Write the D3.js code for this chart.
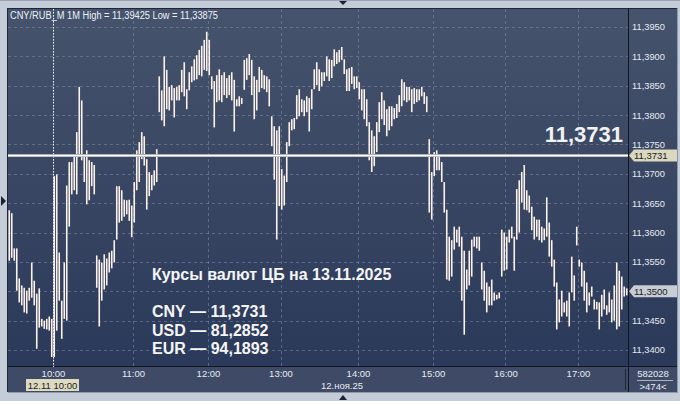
<!DOCTYPE html>
<html><head><meta charset="utf-8">
<script src="https://cdn.jsdelivr.net/npm/d3@7"></script>
<style>body{margin:0;background:#c4ccd8;overflow:hidden}svg{display:block}</style>
</head><body><svg id="c" width="680" height="401"></svg>
<script>
// ---- data ----
const BASE = 11.3;            // bar values below are in 1e-4 RUB above BASE
const barHigh = [
638,633,573,573, 522,510,506,501, 506,549,518,496, 505,453,450,453, 457,453,696,699,
566,484,549,680, 720,720,732,771, 848,825,730,740, 723,720,715,561, 554,549,563,556,
566,569,587,679, 679,672,656,655, 656,646,686,740, 754,771,764,725, 703,698,706,742,
866,842,900,877, 848,851,846,848, 851,877,890,844, 873,883,895,902, 911,918,928,942,
928,866,858,868, 878,868,873,863, 868,873,860,827, 832,829,894,897, 904,894,866,860,
882,877,868,866, 861,798,781,774, 781,708,697,754, 788,793,795,834, 844,827,825,832,
829,844,878,890, 878,873,873,900, 895,894,912,907, 911,916,895,878, 880,882,866,866,
856,844,844,827, 788,774,764,788, 822,839,825,810, 815,815,812,819, 834,861,856,848,
848,844,846,844, 844,848,839,832, 759,703,737,740, 732,720,686,639, 593,587,610,605,
610,593,569,537, 569,588,593,593, 593,549,535,515, 508,520,498,494, 498,605,600,593,
605,610,593,674, 689,703,715,672, 663,644,627,622, 622,610,607,660, 617,587,554,515,
486,501,481,484, 498,559,527,610, 554,549,535,515, 498,508,486,482, 481,494,503,476,
498,486,510,549, 535,525,508,505];
const barLow = [
552,557,552,501, 481,476,464,462, 484,489,476,402, 438,440,436,435, 433,388,388,433,
484,419,453,450, 610,665,672,665, 730,723,686,648, 655,679,665,506, 440,484,503,510,
532,539,549,588, 617,620,627,631, 620,592,617,672, 686,725,714,639, 662,672,680,686,
805,791,781,810, 808,825,796,825, 825,839,832,810, 842,856,859,861, 868,866,877,875,
868,844,779,822, 825,822,834,829, 834,825,772,815, 815,819,843,860, 868,834,793,808,
839,846,844,839, 815,747,690,588, 645,639,646,686, 747,774,776,793, 798,805,798,805,
772,810,844,851, 841,849,858,866, 858,863,883,887, 890,894,870,841, 841,853,844,846,
827,808,793,781, 723,703,713,737, 771,793,783,764, 774,781,793,795, 805,815,825,822,
825,805,819,822, 825,832,819,805, 634,622,696,706, 706,686,634,520, 518,525,571,583,
576,484,426,503, 510,525,576,573, 569,503,484,464, 476,476,484,486, 488,525,535,537,
583,590,535,588, 600,651,639,638, 634,604,588,593, 587,583,587,593, 559,542,508,435,
447,457,464,457, 440,498,484,578, 542,508,484,464, 476,491,469,469, 435,457,469,460,
464,447,450,435, 440,469,491,493];
const yTicks = [11.34, 11.345, 11.35, 11.355, 11.36, 11.365, 11.37, 11.375, 11.38, 11.385, 11.39, 11.395];
const hourLabels = ["10:00","11:00","12:00","13:00","14:00","15:00","16:00","17:00"];
const hourBarIndex = [18, 50, 80, 109, 140, 170, 199, 228];
const cursorBarIndex = 17.8;
const cbRate = 11.3731;
const lastPrice = 11.35;
const headerText = "CNY/RUB_M 1M High = 11,39425 Low = 11,33875";
const noteTitle = "Курсы валют ЦБ на 13.11.2025";
const noteLines = ["CNY — 11,3731", "USD — 81,2852", "EUR — 94,1893"];
const cursorLabel = "12.11 10:00";
const dateLabel = "12.ноя.25";
const volumeLabel = "582028";
const countLabel = ">474<";

// ---- layout ----
const W = 680, H = 401;
const P = {l: 8, r: 628, t: 9, b: 366};
const svg = d3.select("#c");
const font = "'Liberation Sans', Arial, sans-serif";
const fmt = v => d3.format(".4f")(v).replace(".", ",");

const N = barHigh.length;
const x = d3.scaleLinear().domain([0, N]).range([P.l, P.r]);
const y = d3.scaleLinear().domain([11.34, 11.395]).range([350, 27]);

const defs = svg.append("defs");
const g1 = defs.append("linearGradient").attr("id","bg").attr("x1",0).attr("y1",0).attr("x2",0).attr("y2",1);
g1.append("stop").attr("offset","0%").attr("stop-color","#46536c");
g1.append("stop").attr("offset","100%").attr("stop-color","#2b395a");

// outer frame
svg.append("rect").attr("width",W).attr("height",H).attr("fill","#c4ccd8");
svg.append("rect").attr("x",0).attr("y",0).attr("width",W).attr("height",1).attr("fill","#9aa4b4");
svg.append("rect").attr("x",P.l).attr("y",P.t-1).attr("width",678-P.l).attr("height",P.b-P.t+1).attr("fill","url(#bg)");
svg.append("rect").attr("x",P.l).attr("y",P.b).attr("width",678-P.l).attr("height",392-P.b).attr("fill","#3f4b66");
svg.append("line").attr("x1",P.l-0.5).attr("x2",P.l-0.5).attr("y1",P.t-1).attr("y2",392).attr("stroke","#1e2638").attr("stroke-width",1);
svg.append("line").attr("x1",P.l).attr("x2",678).attr("y1",P.t-0.5).attr("y2",P.t-0.5).attr("stroke","#1e2638");
svg.append("line").attr("x1",P.l).attr("x2",678).attr("y1",P.b+0.5).attr("y2",P.b+0.5).attr("stroke","#10151f");
svg.append("line").attr("x1",P.r+0.5).attr("x2",P.r+0.5).attr("y1",P.t-1).attr("y2",392).attr("stroke","#10151f");
svg.append("line").attr("x1",677.5).attr("x2",677.5).attr("y1",P.t-1).attr("y2",392).attr("stroke","#8e98a8");
svg.append("line").attr("x1",P.l).attr("x2",678).attr("y1",392.5).attr("y2",392.5).attr("stroke","#8e98a8");
svg.append("line").attr("x1",625.5).attr("x2",625.5).attr("y1",369).attr("y2",390).attr("stroke","#1e2638");

// markers (triangles)
svg.append("path").attr("d","M339,1 L347,1 L343,5 Z").attr("fill","#1a2234");
svg.append("path").attr("d","M339,400 L347,400 L343,395 Z").attr("fill","#1a2234");
svg.append("path").attr("d","M1,196 L6,201 L1,206 Z").attr("fill","#1a2234");

// grid
const grid = svg.append("g").attr("stroke","#7d8aa6").attr("stroke-opacity",0.55).attr("stroke-dasharray","3,3");
grid.selectAll("line.h").data(yTicks).join("line").attr("class","h")
  .attr("x1",P.l).attr("x2",P.r).attr("y1",d=>Math.round(y(d))+0.5).attr("y2",d=>Math.round(y(d))+0.5);
grid.selectAll("line.v").data(hourBarIndex).join("line").attr("class","v")
  .attr("y1",P.t).attr("y2",P.b).attr("x1",d=>Math.round(x(d))+0.5).attr("x2",d=>Math.round(x(d))+0.5);

// cursor dotted line
svg.append("line").attr("x1",Math.round(x(cursorBarIndex))+0.5).attr("x2",Math.round(x(cursorBarIndex))+0.5)
  .attr("y1",P.t).attr("y2",P.b+1).attr("stroke","#f2f2f2").attr("stroke-dasharray","1.5,1.5");

// bars
const bars = barHigh.map((h,i)=>({i, hi: BASE + h/10000, lo: BASE + barLow[i]/10000}));
svg.append("g").selectAll("line").data(bars).join("line")
  .attr("x1",d=>x(d.i+0.5)).attr("x2",d=>x(d.i+0.5))
  .attr("y1",d=>y(d.hi)).attr("y2",d=>Math.max(y(d.lo), y(d.hi)+1))
  .attr("stroke","#fdf2ec").attr("stroke-width",1.6);

// CB rate line
svg.append("line").attr("x1",P.l).attr("x2",P.r).attr("y1",y(cbRate)).attr("y2",y(cbRate)).attr("stroke","#a9afbb").attr("stroke-width",3);
svg.append("line").attr("x1",P.l).attr("x2",P.r).attr("y1",y(cbRate)).attr("y2",y(cbRate)).attr("stroke","#ffffff").attr("stroke-width",1.4);
svg.append("text").attr("x",623).attr("y",y(cbRate)-14).attr("text-anchor","end")
  .attr("font-family",font).attr("font-weight","bold").attr("font-size",22).attr("fill","#f2f2f2").text(fmt(cbRate));

// header
svg.append("text").attr("x",10).attr("y",19).attr("font-family",font).attr("font-size",10)
  .attr("textLength",208).attr("lengthAdjust","spacingAndGlyphs").attr("fill","#eef1f6").text(headerText);

// note
const note = svg.append("g").attr("font-family",font).attr("font-weight","bold").attr("font-size",16).attr("fill","#f5f5f5");
note.append("text").attr("x",152).attr("y",280).text(noteTitle);
note.selectAll("text.l").data(noteLines).join("text").attr("class","l").attr("x",152).attr("y",(d,i)=>317+i*18.5).text(d=>d);

// right axis (tick label under the last-price marker is covered by it)
const ay = svg.append("g").attr("transform",`translate(${P.r+1},0)`)
  .call(d3.axisRight(y).tickValues(yTicks.filter(v => Math.abs(v - lastPrice) > 1e-9)).tickSize(0).tickPadding(3).tickFormat(fmt));
ay.select(".domain").remove();
ay.selectAll("text").attr("font-family",font).attr("font-size",9.3).attr("fill","#e6eaf2");

// price markers
function marker(v, bg){
  const yy = y(v);
  const g = svg.append("g");
  g.append("path").attr("d",`M${P.r+1},${yy} L${P.r+6},${yy-6} L677,${yy-6} L677,${yy+6} L${P.r+6},${yy+6} Z`).attr("fill",bg);
  g.append("text").attr("x",P.r+6).attr("y",yy).attr("dy","0.35em").attr("font-family",font).attr("font-size",9.5).attr("fill","#1a1a1a").text(fmt(v));
}
marker(cbRate, "#dcd8c0");
marker(lastPrice, "#c8ccd4");

// bottom axis
const ax = svg.append("g").attr("transform",`translate(0,${P.b})`)
  .call(d3.axisBottom(x).tickValues(hourBarIndex).tickSize(0).tickPadding(4).tickFormat((d,i)=>hourLabels[i]));
ax.select(".domain").remove();
ax.selectAll("text").attr("font-family",font).attr("font-size",9.5).attr("fill","#e6eaf2");

// cursor time label
svg.append("rect").attr("x",26).attr("y",379).attr("width",53).attr("height",12).attr("fill","#dedac2");
svg.append("text").attr("x",52.5).attr("y",388.5).attr("text-anchor","middle").attr("font-family",font).attr("font-size",9.5).attr("fill","#1a1a1a").text(cursorLabel);
svg.append("text").attr("x",342).attr("y",389).attr("text-anchor","middle").attr("font-family",font).attr("font-size",9.5).attr("fill","#e6eaf2").text(dateLabel);

// volume box
svg.append("text").attr("x",653).attr("y",376.5).attr("text-anchor","middle").attr("font-family",font).attr("font-size",9.5).attr("fill","#e6eaf2").text(volumeLabel);
svg.append("line").attr("x1",637).attr("x2",673).attr("y1",380.5).attr("y2",380.5).attr("stroke","#aab2c2");
svg.append("text").attr("x",653).attr("y",389.5).attr("text-anchor","middle").attr("font-family",font).attr("font-size",9.5).attr("fill","#e6eaf2").text(countLabel);
</script></body></html>
